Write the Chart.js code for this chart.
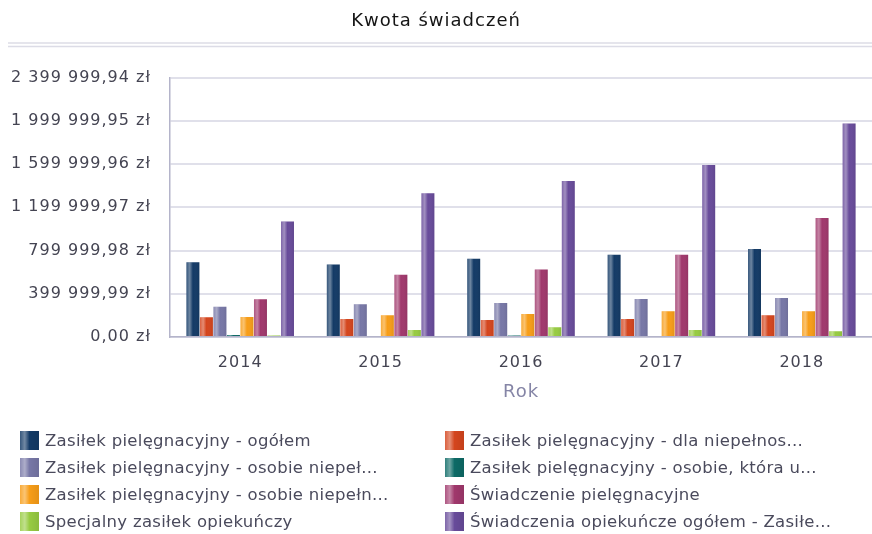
<!DOCTYPE html>
<html lang="pl">
<head>
<meta charset="utf-8">
<title>Kwota świadczeń</title>
<script src="https://cdn.jsdelivr.net/npm/chart.js@4.4.1/dist/chart.umd.min.js"></script>
<style>
  html, body { margin: 0; padding: 0; background: #fff; }
  #wrap { position: relative; width: 872px; height: 534px; }
  #legend {
    position: absolute; left: 20px; top: 427px; width: 850px;
    display: grid; grid-template-columns: 425px 425px; grid-auto-rows: 27px;
    font-family: "DejaVu Sans", sans-serif; font-size: 16.5px; color: #4a4a5c;
    letter-spacing: 0.3px;
  }
  #legend .item { display: flex; align-items: center; white-space: nowrap; }
  #legend .box { width: 19px; height: 19px; margin-right: 6px; flex: none; }
</style>
</head>
<body>
<div id="wrap">
  <canvas id="chart" width="872" height="534"></canvas>
  <div id="legend"></div>
</div>
<script>
const years = ['2014', '2015', '2016', '2017', '2018'];

const seriesNames = [
  'Zasiłek pielęgnacyjny - ogółem',
  'Zasiłek pielęgnacyjny - dla niepełnos...',
  'Zasiłek pielęgnacyjny - osobie niepeł...',
  'Zasiłek pielęgnacyjny - osobie, która u...',
  'Zasiłek pielęgnacyjny -  osobie niepełn...',
  'Świadczenie pielęgnacyjne',
  'Specjalny zasiłek opiekuńczy',
  'Świadczenia opiekuńcze ogółem - Zasiłe...'
];

const zasilekOgolem = [692000, 670000, 725000, 760000, 815000];
const dlaNiepelnosprawnego = [183000, 167000, 158000, 167000, 201000];
const osobieNiepelnosprawnej = [281000, 303000, 315000, 352000, 361000];
const osobieKtora = [18000, 0, 15000, 0, 0];
const osobieNiepelnosprawnej75 = [185000, 201000, 213000, 238000, 238000];
const swiadczeniePiel = [349000, 577000, 624000, 760000, 1100000];
const specjalnyZasilek = [15000, 65000, 90000, 65000, 53000];
const opiekunczeOgolem = [1068000, 1331000, 1443000, 1591000, 1976000];

const yTicks = [0, 399999.99, 799999.98, 1199999.97, 1599999.96, 1999999.95, 2399999.94];

const seriesValues = [
  zasilekOgolem, dlaNiepelnosprawnego, osobieNiepelnosprawnej, osobieKtora,
  osobieNiepelnosprawnej75, swiadczeniePiel, specjalnyZasilek, opiekunczeOgolem
];

const palette = ['#133a66', '#d4451d', '#7777a6', '#0d6a66', '#f79d18', '#a0386c', '#97cb42', '#684b9a'];

const FONT = '"DejaVu Sans", sans-serif';

function zl(v) {
  const parts = v.toFixed(2).split('.');
  return parts[0].replace(/\B(?=(\d{3})+(?!\d))/g, ' ') + ',' + parts[1] + ' zł';
}

// glossy vertical stripe over each bar
const barShine = {
  id: 'barShine',
  afterDatasetsDraw(chart) {
    const ctx = chart.ctx;
    chart.data.datasets.forEach((ds, i) => {
      const meta = chart.getDatasetMeta(i);
      if (meta.hidden) return;
      meta.data.forEach(bar => {
        const p = bar.getProps(['x', 'y', 'base', 'width'], true);
        const l = p.x - p.width / 2;
        const g = ctx.createLinearGradient(l, 0, l + p.width, 0);
        g.addColorStop(0, 'rgba(255,255,255,0.15)');
        g.addColorStop(0.25, 'rgba(255,255,255,0.38)');
        g.addColorStop(0.5, 'rgba(255,255,255,0)');
        g.addColorStop(1, 'rgba(0,0,0,0.08)');
        ctx.save();
        ctx.fillStyle = g;
        ctx.fillRect(l, p.y, p.width, p.base - p.y);
        ctx.restore();
      });
    });
  }
};

// double rule under the title, plus the wider text spacing used for all labels
const titleRule = {
  id: 'titleRule',
  beforeDraw(chart) {
    const ctx = chart.ctx;
    ctx.letterSpacing = '1px';
    ctx.save();
    ctx.strokeStyle = '#dcdce6';
    ctx.lineWidth = 1.5;
    [43, 46.5].forEach(y => {
      ctx.beginPath();
      ctx.moveTo(8, y);
      ctx.lineTo(chart.width, y);
      ctx.stroke();
    });
    ctx.restore();
  }
};

const chart = new Chart(document.getElementById('chart'), {
  type: 'bar',
  data: {
    labels: years,
    datasets: seriesValues.map((vals, i) => ({
      label: seriesNames[i],
      data: vals,
      backgroundColor: palette[i],
      borderWidth: 0,
      categoryPercentage: 0.77,
      barPercentage: 0.96
    }))
  },
  options: {
    responsive: false,
    animation: false,
    layout: { padding: { left: 0, right: 0, top: 0, bottom: 122 } },
    plugins: {
      legend: { display: false },
      tooltip: { enabled: false },
      title: {
        display: true,
        text: 'Kwota świadczeń',
        color: '#151515',
        font: { family: FONT, size: 18, weight: 'normal' },
        padding: { top: 11, bottom: 45 }
      }
    },
    scales: {
      x: {
        grid: { display: false },
        border: { display: true, color: '#b4b4ca', width: 1.5 },
        ticks: { color: '#444452', font: { family: FONT, size: 16 }, padding: 8 },
        title: {
          display: true, text: 'Rok', color: '#8585a6',
          font: { family: FONT, size: 18 }, padding: { top: 0, bottom: 9 }
        },
        afterFit(scale) { scale.height = 75; }
      },
      y: {
        min: 0,
        max: yTicks[yTicks.length - 1],
        afterBuildTicks(scale) { scale.ticks = yTicks.map(v => ({ value: v })); },
        afterFit(scale) { scale.width = 170; },
        grid: { color: '#e0e0ea', lineWidth: 2, drawTicks: false },
        border: { display: true, color: '#b4b4ca', width: 1.5 },
        ticks: {
          color: '#444452', font: { family: FONT, size: 16 }, padding: 19,
          callback: v => zl(v)
        }
      }
    }
  },
  plugins: [barShine, titleRule]
});

// two-column legend below the chart
const legend = document.getElementById('legend');
chart.data.datasets.forEach(ds => {
  const item = document.createElement('div');
  item.className = 'item';
  const box = document.createElement('span');
  box.className = 'box';
  box.style.background = 'linear-gradient(90deg, rgba(255,255,255,0.15), rgba(255,255,255,0.4) 25%, rgba(255,255,255,0) 50%, rgba(0,0,0,0.08)), ' + ds.backgroundColor;
  const txt = document.createElement('span');
  txt.textContent = ds.label;
  item.appendChild(box);
  item.appendChild(txt);
  legend.appendChild(item);
});
</script>
</body>
</html>
